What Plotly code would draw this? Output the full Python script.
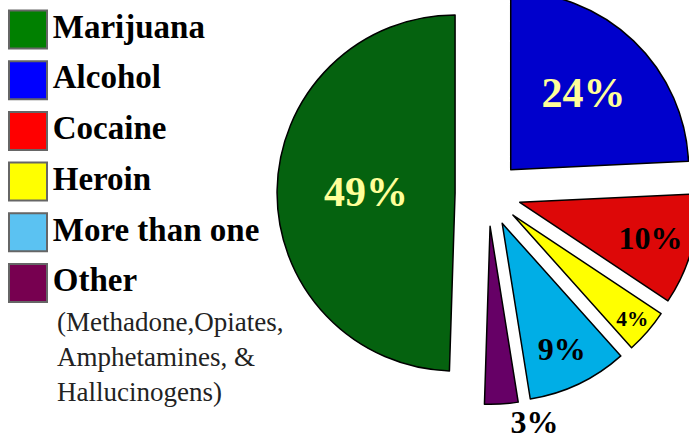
import plotly.graph_objects as go

# ---------------- data ----------------
slice_labels = ["Alcohol", "Cocaine", "Heroin", "More than one", "Other", "Marijuana"]
slice_values = [24, 10, 4, 9, 3, 49]
slice_colors = ["#0000CC", "#DD0808", "#FFFF00", "#00AEE6", "#660066", "#05620F"]
slice_text_colors = ["#FFFF99", "black", "black", "black", "black", "#FFFF99"]
slice_text_sizes = [42, 32, 32, 32, 32, 42]
slice_text_pos = ["inside", "inside", "inside", "inside", "outside", "inside"]

legend_names = ["Marijuana", "Alcohol", "Cocaine", "Heroin", "More than one", "Other"]
legend_colors = ["#008000", "#0000FF", "#FF0000", "#FFFF00", "#5BC2F2", "#770050"]
note_text = "(Methadone,Opiates,<br>Amphetamines, &<br>Hallucinogens)"

# ---------------- layout geometry (pixels) ----------------
# The figure is a little larger than the window and shifted up so that the
# pie is cropped at the top and right edges as in the original slide.
W, H, SHIFT = 740, 480, 30
PULL = 0.185
R = 178
CX, CY = 488, 193.5 + SHIFT
D = R * (1 + PULL)
dom_x = [(CX - D) / W, (CX + D) / W]
dom_y = [(H - (CY + D)) / H, (H - (CY - D)) / H]

LEG_X0, LEG_Y0, LEG_DY = 28, 29.5 + SHIFT, 50.7

pie_text = [f"{v}%" for v in slice_values]

fig = go.Figure()
fig.add_trace(go.Pie(
    labels=slice_labels,
    values=slice_values,
    text=pie_text,
    textinfo="text",
    texttemplate="<b>%{text}</b>",
    textposition=slice_text_pos,
    insidetextorientation="horizontal",
    textfont=dict(family="Liberation Serif", size=slice_text_sizes, color=slice_text_colors),
    marker=dict(colors=slice_colors, line=dict(color="black", width=1.5)),
    pull=[PULL] * len(slice_values),
    sort=False,
    direction="clockwise",
    rotation=0,
    domain=dict(x=dom_x, y=dom_y),
    automargin=False,
    hoverinfo="none",
    showlegend=False,
))

fig.add_trace(go.Scatter(
    x=[0] * len(legend_names),
    y=list(range(len(legend_names))),
    mode="markers+text",
    text=legend_names,
    texttemplate="<b>%{text}</b>",
    textposition="middle right",
    textfont=dict(family="Liberation Serif", size=33, color="black"),
    marker=dict(symbol="square", size=38, color=legend_colors,
                line=dict(color="#666666", width=2)),
    hoverinfo="none",
    showlegend=False,
    cliponaxis=False,
))

fig.update_layout(
    width=W, height=H,
    margin=dict(l=0, r=0, t=0, b=0, autoexpand=False),
    showlegend=False,
    paper_bgcolor="white", plot_bgcolor="rgba(0,0,0,0)",
    xaxis=dict(visible=False, range=[-LEG_X0, W - LEG_X0], domain=[0, 1], fixedrange=True),
    yaxis=dict(visible=False, range=[(H - LEG_Y0) / LEG_DY, -LEG_Y0 / LEG_DY],
               domain=[0, 1], fixedrange=True),
    annotations=[dict(
        text=note_text, x=55 / W, y=1 - (305 + SHIFT) / H,
        xref="paper", yref="paper", xanchor="left", yanchor="top",
        align="left", showarrow=False,
        font=dict(family="Liberation Serif", size=27, color="#222222"),
    )],
)

post = ("document.body.style.margin='0';document.body.style.overflow='hidden';"
        "document.getElementById('{plot_id}').style.marginTop='-%dpx';" % SHIFT)
fig.write_html("out.html", post_script=post, config={"displayModeBar": False})
